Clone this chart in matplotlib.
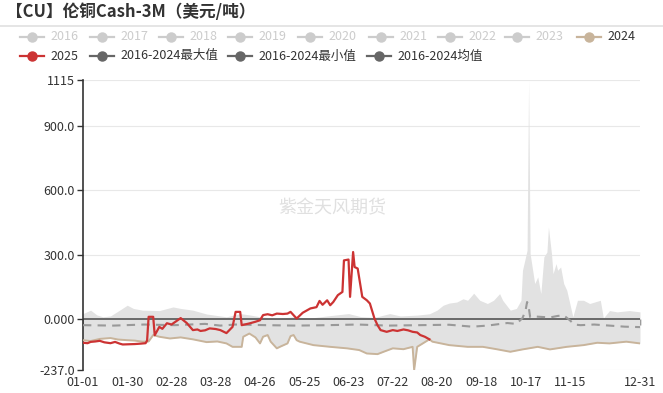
import datetime as dt
import numpy as np
import matplotlib
matplotlib.use("Agg")
import matplotlib.pyplot as plt

plt.rcParams['font.family'] = ['Noto Sans CJK SC', 'DejaVu Sans']

# category axis: every MM-DD of a leap year
start = dt.date(2024, 1, 1)
days = [(start + dt.timedelta(days=i)).strftime('%m-%d') for i in range(366)]
label_days = ['01-01', '01-30', '02-28', '03-28', '04-26', '05-25', '06-23',
              '07-22', '08-20', '09-18', '10-17', '11-15', '12-31']
tick_days = label_days[:-1] + ['12-14', '12-31']

y_ticks = [-237, 0, 300, 600, 900, 1115]
y_labels = ['-237.0', '0.000', '300.0', '600.0', '900.0', '1115']

# 2025 (day index on the axis, value)
red_day = [0, 3, 5, 8, 11, 14, 18, 21, 24, 26, 30, 34, 38, 41, 42, 43, 46, 47,
           50, 52, 55, 58, 61, 64, 68, 72, 75, 77, 80, 83, 87, 90, 94, 98, 100,
           103, 104, 109, 113, 116, 118, 121, 124, 127, 131, 134, 136, 140, 144,
           147, 149, 153, 155, 157, 160, 162, 164, 167, 170, 171, 174, 175, 177,
           178, 180, 183, 186, 188, 191, 193, 195, 199, 203, 206, 210, 213, 216,
           219, 221, 224, 227]
red_val = [-110, -112, -106, -104, -101, -108, -112, -106, -114, -118, -117,
           -116, -114, -112, -100, 11, 11, -75, -36, -45, -19, -25, -10, 5, -18,
           -51, -48, -55, -52, -43, -46, -51, -65, -36, 34, 34, -28, -20, -12,
           -5, 19, 23, 18, 26, 24, 26, 34, 3, 30, 42, 50, 56, 85, 67, 88, 65, 80,
           112, 127, 274, 278, 104, 313, 243, 236, 104, 88, 73, 3, -28, -51, -59,
           -51, -55, -48, -52, -59, -62, -74, -82, -94]

# 2024 (also the lower edge of the 2016-2024 range)
y24_day = [0, 5, 11, 18, 23, 29, 34, 39, 43, 46, 50, 57, 64, 72, 81, 88, 94, 98,
           104, 105, 109, 113, 116, 118, 121, 123, 127, 129, 134, 136, 138, 140,
           142, 151, 162, 173, 181, 186, 193, 197, 203, 210, 216, 217, 219, 227,
           229, 240, 252, 262, 271, 280, 288, 298, 306, 317, 328, 337, 345, 356,
           365]
y24_val = [-98, -102, -92, -88, -95, -98, -100, -105, -104, -74, -82, -90, -85,
           -94, -107, -104, -113, -129, -129, -82, -67, -85, -113, -82, -74,
           -105, -136, -129, -113, -79, -74, -98, -105, -121, -129, -136, -144,
           -160, -163, -152, -136, -140, -129, -237, -129, -94, -105, -121, -129,
           -129, -140, -152, -141, -129, -141, -129, -121, -110, -113, -105, -113]

# 2016-2024 max
max_day = [0, 5, 9, 13, 18, 24, 29, 33, 39, 50, 59, 64, 72, 81, 94, 103, 109,
           116, 127, 138, 149, 160, 174, 182, 191, 201, 208, 219, 227, 232, 236,
           240, 245, 249, 252, 254, 256, 260, 265, 269, 273, 275, 280, 284, 287,
           288, 291, 292, 293, 294, 296, 298, 300, 302, 304, 305, 307, 308, 310,
           311, 313, 315, 317, 319, 321, 324, 328, 332, 339, 341, 345, 350, 358,
           365]
max_val = [26, 42, 20, 11, 15, 42, 65, 50, 42, 40, 57, 50, 42, 24, 11, 26, 20,
           11, 3, 11, 5, 15, 26, 12, 8, 26, 15, 19, 25, 42, 65, 75, 80, 95, 88,
           104, 121, 88, 73, 88, 119, 88, 42, 50, 88, 228, 321, 1115, 305, 259,
           166, 197, 119, 290, 313, 429, 305, 212, 259, 228, 243, 166, 135, 73,
           11, 88, 88, 73, 88, 5, 40, 34, 40, 34]

# 2016-2024 mean
mean_day = [0, 20, 40, 60, 80, 90, 100, 120, 140, 160, 180, 200, 220, 240, 255,
            265, 278, 284, 288, 290, 291, 292, 293, 297, 306, 311, 315, 319, 322,
            326, 335, 345, 355, 365]
mean_val = [-28, -30, -25, -28, -22, -30, -25, -28, -30, -28, -25, -30, -28, -26,
            -35, -30, -18, -22, 5, 40, 80, 60, 10, 12, 8, 15, 18, -5, -25, -28,
            -25, -30, -35, -37]

RED = '#cc3333'
TAN = '#c8b49b'
DARK = '#666666'
OFF = '#cccccc'

fig = plt.figure(figsize=(6.63, 3.93), dpi=100)
ax = fig.add_axes([83 / 663, 1 - 370 / 393, 557 / 663, 290 / 393])

# grey band between the max and the min (= 2024 line)
grid = sorted(set(max_day) | set(y24_day))
up = np.interp(grid, max_day, max_val)
lo = np.interp(grid, y24_day, y24_val)
ax.fill_between(grid, lo, up, color='#e2e2e2', lw=0, zorder=1)

ax.plot(mean_day, mean_val, color='#999999', lw=1.5, ls=(0, (4, 3)), zorder=3)
ax.plot(y24_day, y24_val, color=TAN, lw=1.4, zorder=4)
ax.plot(red_day, red_val, color=RED, lw=1.6, zorder=5)

ax.axhline(0, color='#555555', lw=1.2, zorder=2)

ax.set_xlim(0, 365)
ax.set_ylim(-237, 1115)
ax.set_yticks(y_ticks)
ax.set_yticklabels(y_labels)
ax.set_xticks([days.index(d) for d in label_days])
ax.set_xticklabels(label_days)
ax.tick_params(axis='x', length=0, labelsize=9, labelcolor='#333333', pad=4)
ax.tick_params(axis='y', length=4, width=1, color='#333333', labelsize=9,
               labelcolor='#333333', pad=2)
for y in y_ticks:
    if y != 0:
        ax.axhline(y, color='#e8e8e8', lw=0.8, zorder=0)
for s in ['top', 'right', 'bottom']:
    ax.spines[s].set_visible(False)
ax.spines['left'].set_color('#333333')
ax.spines['left'].set_linewidth(1.2)

# tick marks sitting on the zero line
sec = ax.secondary_xaxis(237 / 1352)
sec.set_xticks([days.index(d) for d in tick_days])
sec.tick_params(length=4, width=1, color='#555555', labelbottom=False)
sec.spines['bottom'].set_visible(False)

ax.text(0.447, 0.559, '紫金天风期货', transform=ax.transAxes, ha='center',
        va='center', fontsize=13, color='#e0e0e0', zorder=0)

# title and legend drawn in pixel coordinates
ov = fig.add_axes([0, 0, 1, 1], zorder=10)
ov.set_xlim(0, 663)
ov.set_ylim(393, 0)
ov.axis('off')
ov.patch.set_alpha(0)

ov.text(6, 12, '【CU】伦铜Cash-3M（美元/吨）', fontsize=12, fontweight='bold',
        color='#333333', va='center')
ov.plot([0, 663], [26, 26], color='#e0e0e0', lw=1.2)

legend_rows = [
    [('2016', OFF, 32), ('2017', OFF, 102), ('2018', OFF, 171), ('2019', OFF, 240),
     ('2020', OFF, 310), ('2021', OFF, 381), ('2022', OFF, 450), ('2023', OFF, 517),
     ('2024', TAN, 589)],
    [('2025', RED, 32), ('2016-2024最大值', DARK, 102),
     ('2016-2024最小值', DARK, 240), ('2016-2024均值', DARK, 379)],
]
for row, yy in zip(legend_rows, [37, 56]):
    for name, col, xx in row:
        ov.plot([xx - 12, xx + 12], [yy, yy], color=col, lw=1.6)
        ov.plot([xx], [yy], 'o', color=col, ms=6.5)
        ov.text(xx + 18, yy, name, fontsize=9, va='center',
                color=OFF if col == OFF else '#333333')

fig.savefig('out.png', dpi=100)
